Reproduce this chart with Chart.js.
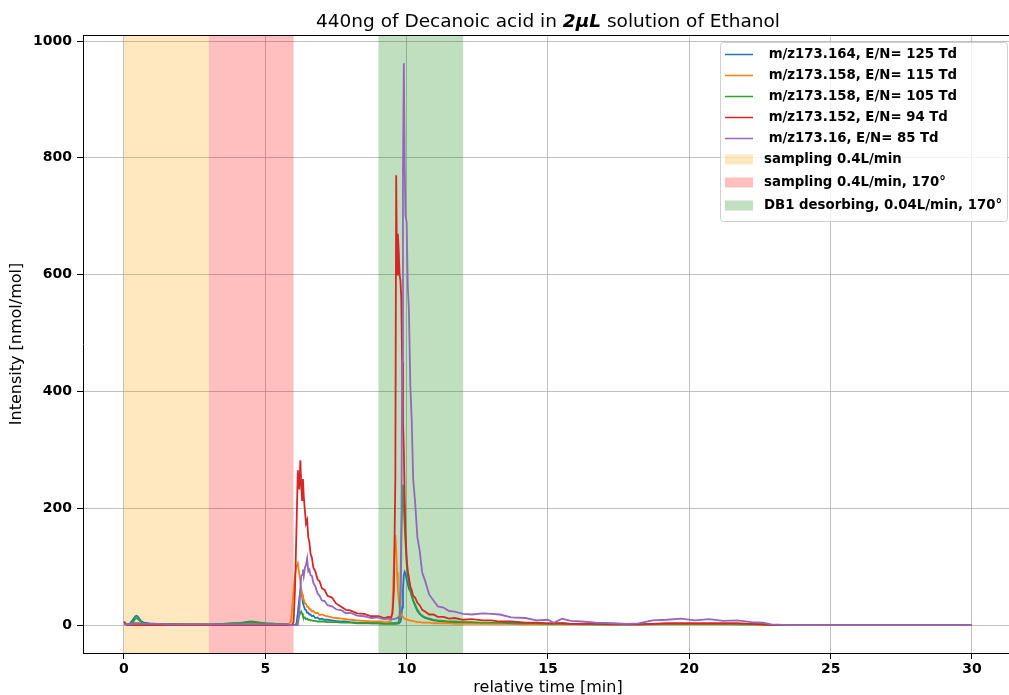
<!DOCTYPE html>
<html>
<head>
<meta charset="utf-8">
<script src="https://cdn.jsdelivr.net/npm/chart.js@4.4.0/dist/chart.umd.min.js"></script>
<style>
  html, body { margin: 0; padding: 0; background: #fff; }
  #wrap { width: 1009px; height: 695px; }
</style>
</head>
<body>
<div id="wrap"><canvas id="grafico" width="1009" height="695"></canvas></div>
<script>
// tiempo relativo [min], compartido por todas las series
const tiempoMin = [
  0, 0.1, 0.2, 0.3, 0.4, 0.45, 0.5, 0.6, 0.7, 0.9, 1.2, 1.6, 2.0, 2.5, 3.0, 3.5, 4.0, 4.3, 4.5, 4.7, 5.0, 5.4, 5.8,
  5.9, 5.95, 6.0, 6.05, 6.1, 6.15, 6.2, 6.24, 6.27, 6.3, 6.33, 6.36, 6.4, 6.44, 6.48, 6.52, 6.56, 6.6, 6.65, 6.7, 6.77, 6.85, 6.92, 7.0,
  7.1, 7.2, 7.36, 7.5, 7.7, 7.85, 8.0, 8.25, 8.5, 8.75, 9.0, 9.2, 9.35, 9.45,
  9.5, 9.55, 9.6, 9.63, 9.66, 9.69, 9.72, 9.75, 9.78, 9.81, 9.84, 9.87, 9.9, 9.93, 9.96, 10.0, 10.04, 10.08, 10.13, 10.18, 10.23, 10.3,
  10.38, 10.46, 10.55, 10.65, 10.8, 10.95, 11.1, 11.3, 11.5, 11.7, 12.0, 12.3, 12.7, 13.0, 13.3, 13.7, 14.2, 14.6, 15.0, 15.2,
  15.5, 15.8, 16.2, 16.7, 17.3, 17.8, 18.2, 18.7, 19.2, 19.7, 20.2, 20.7, 21.2, 21.7, 22.2, 22.6, 22.9, 23.5, 25, 27, 30
];

// intensidades [nmol/mol]
const mz164_125Td = [
  3, 1, 2, 8, 15, 16, 14, 7, 4, 3, 2, 2, 2, 1, 1, 2, 3, 5, 6, 5, 3, 2, 1,
  0, 0, 0, 0, 2, 20, 45, 60, 62, 50, 38, 33, 27, 26, 21, 21, 18, 18, 15, 16, 12, 13, 10, 11,
  9, 9, 8, 7, 6, 6, 5, 4, 4, 3, 3, 3, 3, 3,
  3, 3, 3, 3, 3, 3, 3, 4, 6, 12, 30, 60, 85, 91, 88, 78, 70, 62, 58, 50, 42, 33,
  24, 19, 15, 12, 10, 8, 7, 6, 5, 5, 4, 4, 3, 3, 3, 3, 2, 2, 2, 2,
  2, 2, 1, 1, 1, 1, 1, 1, 2, 2, 2, 2, 2, 1, 1, 1, 0, 0, 0, 0, 0
];
const mz158_115Td = [
  2, 1, 1, 2, 3, 3, 3, 2, 2, 2, 1, 1, 1, 1, 1, 1, 1, 2, 2, 2, 1, 1, 1,
  5, 30, 60, 85, 100, 106, 88, 74, 58, 53, 44, 44, 37, 36, 31, 31, 27, 27, 23, 24, 20, 21, 17, 18,
  16, 15, 13, 12, 11, 10, 9, 8, 7, 6, 6, 5, 5, 8,
  30, 110, 154, 130, 90, 60, 43, 30, 22, 17, 15, 14, 12, 11, 10, 9, 9, 8, 8, 7, 7, 6,
  5, 5, 4, 4, 4, 3, 3, 3, 3, 2, 2, 2, 2, 2, 2, 2, 1, 1, 1, 1,
  1, 1, 1, 1, 1, 1, 1, 1, 1, 1, 1, 1, 1, 1, 1, 0, 0, 0, 0, 0, 0
];
const mz158_105Td = [
  2, 1, 1, 3, 11, 12, 10, 5, 3, 2, 2, 2, 1, 1, 1, 2, 3, 4, 5, 4, 3, 2, 1,
  0, 0, 0, 0, 1, 8, 16, 21, 23, 20, 15, 12, 13, 10, 11, 9, 9, 8, 8, 7, 7, 6, 6, 6,
  6, 5, 5, 5, 4, 4, 4, 3, 3, 3, 3, 2, 2, 2,
  2, 2, 2, 2, 3, 4, 6, 15, 60, 150, 210, 240, 200, 170, 140, 106, 85, 70, 60, 50, 42, 35,
  26, 20, 16, 13, 11, 9, 8, 7, 6, 6, 5, 5, 4, 4, 4, 3, 3, 3, 2, 2,
  3, 2, 2, 1, 1, 1, 1, 2, 2, 2, 2, 2, 2, 2, 1, 1, 0, 0, 0, 0, 0
];
const mz152_94Td = [
  6, 0, 0, 0, 0, 0, 0, 0, 0, 0, 0, 0, 0, 0, 0, 0, 0, 0, 0, 0, 0, 0, 0,
  0, 0, 5, 60, 160, 265, 232, 282, 240, 214, 250, 221, 196, 174, 180, 150, 142, 122, 115, 98, 92, 78, 75, 63,
  60, 50, 47, 37, 31, 26, 25, 20, 19, 15, 15, 12, 14, 13,
  20, 60, 250, 770, 600, 670, 640, 600, 590, 560, 450, 350, 300, 220, 160, 115, 92, 82, 66, 60, 50, 47,
  38, 34, 26, 23, 18, 18, 14, 14, 11, 12, 9, 10, 8, 8, 6, 6, 4, 4, 3, 3,
  3, 2, 2, 2, 1, 1, 1, 2, 3, 3, 3, 3, 3, 3, 2, 1, 0, 0, 0, 0, 0
];
const mz16_85Td = [
  1, 1, 1, 2, 3, 3, 3, 2, 2, 2, 2, 1, 1, 1, 1, 1, 1, 1, 1, 1, 1, 1, 1,
  0, 0, 0, 0, 0, 0, 20, 62, 84, 86, 95, 84, 98, 103, 114, 92, 95, 85, 84, 72, 66, 54, 50, 42,
  41, 34, 32, 27, 25, 20, 21, 16, 15, 12, 13, 10, 11, 10,
  10, 10, 11, 11, 12, 13, 14, 16, 25, 120, 450, 780, 962, 790, 700, 690, 580, 540, 410, 350, 250, 210,
  150, 128, 90, 76, 52, 42, 32, 30, 24, 23, 19, 18, 20, 19, 18, 13, 12, 8, 9, 4,
  11, 7, 6, 4, 3, 2, 3, 8, 9, 11, 8, 10, 7, 8, 5, 4, 1, 0, 0, 0, 0
];

const nombresSeries = [
  ' m/z173.164, E/N= 125 Td',
  ' m/z173.158, E/N= 115 Td',
  ' m/z173.158, E/N= 105 Td',
  ' m/z173.152, E/N= 94 Td',
  ' m/z173.16, E/N= 85 Td'
];
const coloresSeries = ['#1f77b4', '#ff7f0e', '#2ca02c', '#d62728', '#9467bd'];

// intervalos sombreados [inicio, fin] en minutos
const etapasInicio = [0, 3, 9];
const etapasFin = [3, 6, 12];
const etapasNombres = ['sampling 0.4L/min', 'sampling 0.4L/min, 170°', 'DB1 desorbing, 0.04L/min, 170°'];
const etapasColores = ['rgba(255,165,0,0.25)', 'rgba(255,0,0,0.25)', 'rgba(0,128,0,0.25)'];

const ticksX = [0, 5, 10, 15, 20, 25, 30];
const ticksY = [0, 200, 400, 600, 800, 1000];

const FUENTE = "'DejaVu Sans', sans-serif";

const valoresSeries = [mz164_125Td, mz158_115Td, mz158_105Td, mz152_94Td, mz16_85Td];

const datasets = valoresSeries.map((valores, i) => ({
  label: nombresSeries[i],
  data: valores.map((v, j) => ({ x: tiempoMin[j], y: v })),
  borderColor: coloresSeries[i],
  borderWidth: 1.8,
  pointRadius: 0,
  tension: 0,
  fill: false,
  order: valoresSeries.length - i
}));

const pluginExtras = {
  id: 'extras',
  beforeDatasetsDraw(chart) {
    const ctx = chart.ctx;
    const area = chart.chartArea;
    const x = chart.scales.x;
    ctx.save();
    for (let i = 0; i < etapasInicio.length; i++) {
      const x0 = x.getPixelForValue(etapasInicio[i]);
      const x1 = x.getPixelForValue(etapasFin[i]);
      ctx.fillStyle = etapasColores[i];
      ctx.fillRect(x0, area.top, x1 - x0, area.bottom - area.top);
    }
    ctx.restore();
  },
  afterDraw(chart) {
    const ctx = chart.ctx;
    const area = chart.chartArea;
    ctx.save();

    // borde superior
    ctx.strokeStyle = '#000';
    ctx.lineWidth = 1;
    ctx.beginPath();
    ctx.moveTo(area.left, area.top + 0.5);
    ctx.lineTo(area.right, area.top + 0.5);
    ctx.stroke();

    // título
    const parte1 = '440ng of Decanoic acid in ';
    const parte2 = '2μL';
    const parte3 = ' solution of Ethanol';
    const fNormal = '18.5px ' + FUENTE;
    const fMath = 'italic bold 18.5px ' + FUENTE;
    ctx.font = fNormal;
    const w1 = ctx.measureText(parte1).width;
    const w3 = ctx.measureText(parte3).width;
    ctx.font = fMath;
    const w2 = ctx.measureText(parte2).width;
    let tx = 548 - (w1 + w2 + w3) / 2;
    const ty = 27;
    ctx.fillStyle = '#000';
    ctx.textBaseline = 'alphabetic';
    ctx.textAlign = 'left';
    ctx.font = fNormal;
    ctx.fillText(parte1, tx, ty);
    tx += w1;
    ctx.font = fMath;
    ctx.fillText(parte2, tx, ty);
    tx += w2;
    ctx.font = fNormal;
    ctx.fillText(parte3, tx, ty);

    // títulos de ejes
    ctx.font = '16px ' + FUENTE;
    ctx.textAlign = 'center';
    ctx.textBaseline = 'middle';
    ctx.fillText('relative time [min]', 548, 688);
    ctx.save();
    ctx.translate(17, (area.top + area.bottom) / 2);
    ctx.rotate(-Math.PI / 2);
    ctx.fillText('Intensity [nmol/mol]', 0, 0);
    ctx.restore();

    // leyenda
    const lx = 720.5, ly = 42.5, lw = 287, lh = 179;
    ctx.beginPath();
    ctx.roundRect(lx, ly, lw, lh, 3);
    ctx.fillStyle = 'rgba(255,255,255,0.8)';
    ctx.fill();
    ctx.strokeStyle = '#d0d0d0';
    ctx.lineWidth = 1;
    ctx.stroke();

    ctx.font = 'bold 13.3px ' + FUENTE;
    ctx.textAlign = 'left';
    ctx.textBaseline = 'middle';
    for (let i = 0; i < nombresSeries.length; i++) {
      const y = 54.5 + i * 21;
      ctx.strokeStyle = coloresSeries[i];
      ctx.lineWidth = 1.5;
      ctx.beginPath();
      ctx.moveTo(725, y);
      ctx.lineTo(753, y);
      ctx.stroke();
      ctx.fillStyle = '#000';
      ctx.fillText(nombresSeries[i], 764, y);
    }
    for (let i = 0; i < etapasNombres.length; i++) {
      const y = 159.5 + i * 23;
      ctx.fillStyle = etapasColores[i];
      ctx.fillRect(725, y - 5, 28, 10);
      ctx.fillStyle = '#000';
      ctx.fillText(etapasNombres[i], 764, y);
    }
    ctx.restore();
  }
};

const ejeComun = {
  type: 'linear',
  grid: { color: '#b0b0b0', lineWidth: 0.8, tickLength: 6, tickColor: '#000', tickWidth: 1 },
  border: { color: '#000', width: 1 },
  ticks: { color: '#000', font: { family: FUENTE, size: 14, weight: 'bold' }, autoSkip: false, maxRotation: 0, callback: v => String(v) }
};

new Chart(document.getElementById('grafico').getContext('2d'), {
  type: 'line',
  data: { datasets: datasets },
  plugins: [pluginExtras],
  options: {
    responsive: false,
    animation: false,
    devicePixelRatio: 1,
    layout: { padding: { top: 35, right: 0, bottom: 0, left: 0 } },
    plugins: { legend: { display: false }, tooltip: { enabled: false }, title: { display: false } },
    scales: {
      x: Object.assign({}, ejeComun, {
        min: -1.45,
        max: 31.31,
        afterFit: s => { s.height = 42; },
        afterBuildTicks: s => { s.ticks = ticksX.map(v => ({ value: v })); },
        ticks: Object.assign({}, ejeComun.ticks, { padding: 2 })
      }),
      y: Object.assign({}, ejeComun, {
        min: -47.9,
        max: 1010.3,
        afterFit: s => { s.width = 83; },
        afterBuildTicks: s => { s.ticks = ticksY.map(v => ({ value: v })); },
        ticks: Object.assign({}, ejeComun.ticks, { padding: 5 })
      })
    }
  }
});
</script>
</body>
</html>
